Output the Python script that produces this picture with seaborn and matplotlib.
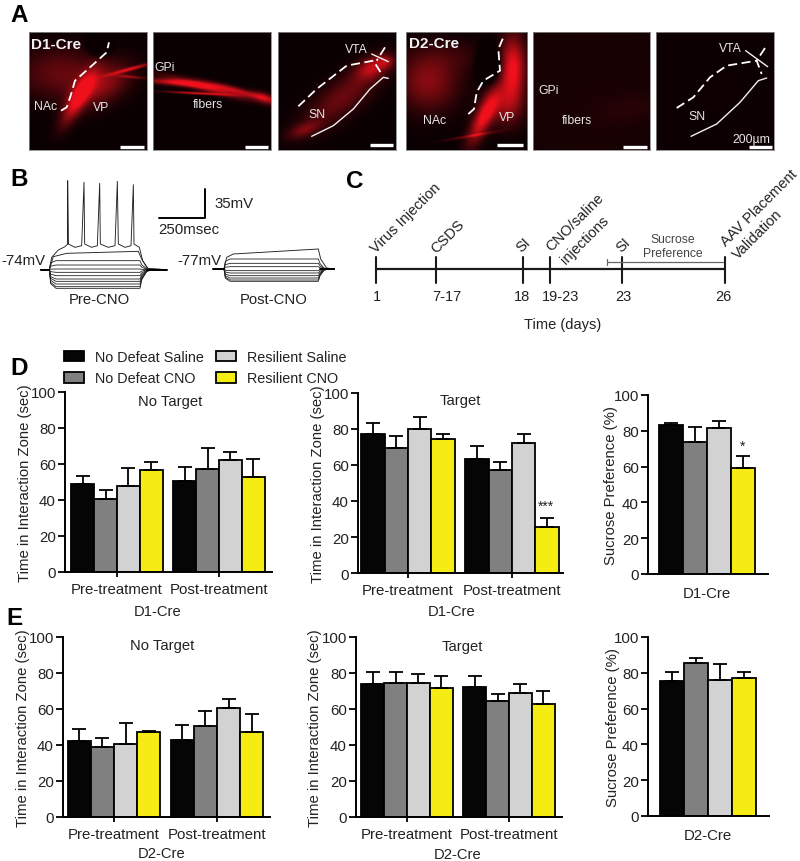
import matplotlib
matplotlib.use("Agg")
import matplotlib.pyplot as plt
from matplotlib.colors import LinearSegmentedColormap
import numpy as np
import pandas as pd
import seaborn as sns

W, H = 800, 862

# bar data
groups = ['No Defeat Saline', 'No Defeat CNO', 'Resilient Saline', 'Resilient CNO']
palette = ['#050505', '#808080', '#d2d2d2', '#f5ec14']
phases = ['Pre-treatment', 'Post-treatment']

d_notarget = [49, 40.5, 48, 56.5, 50.5, 57, 62, 53]
d_notarget_top = [53.5, 45.5, 58, 61, 58.5, 69, 66.5, 63]
d_target = [77, 69.5, 80, 74.5, 63.5, 57.5, 72, 25.5]
d_target_top = [83.5, 76, 86.5, 77, 70.5, 61.5, 77, 30.5]
d_sucrose = [83, 74, 81.5, 59]
d_sucrose_top = [84.5, 82, 85.5, 66]

e_notarget = [42.5, 39, 40.5, 47, 43, 50.5, 60.5, 47.5]
e_notarget_top = [49, 44, 52, 48, 51, 59, 65.5, 57]
e_target = [74, 74.5, 74.5, 71.5, 72, 64.5, 69, 63]
e_target_top = [80.5, 80.5, 79.5, 78.5, 78.5, 68.5, 74, 70]
e_sucrose = [75.5, 85.5, 76, 77]
e_sucrose_top = [80.5, 88.5, 85, 80.5]

# timeline
tl_x = [376, 436, 523, 550, 622, 725]
tl_day_x = [377, 447, 522, 561, 623, 723]
tl_days = ['1', '7-17', '18', '19-23', '23', '26']

# traces, in zoom pixels (x3)
pre_levels = [373, 368, 360, 352, 345, 335, 325, 315, 303, 290]
post_levels = [352, 348, 342, 335, 327, 320, 308, 298, 285]
pre_spiking = [(122, 317), (148, 317), (155, 280), (175, 258), (195, 248), (203, 240), (203, 50), (205, 240),
               (225, 250), (245, 245), (252, 55), (254, 240), (275, 250), (292, 245), (299, 58), (301, 240),
               (325, 250), (345, 245), (352, 52), (355, 240), (375, 250), (393, 245), (400, 62), (402, 240),
               (418, 250), (428, 290), (445, 315), (500, 317)]
pre_upper = [(122, 317), (148, 317), (160, 278), (200, 268), (415, 262), (425, 285), (442, 313), (500, 317)]
post_upper = [(640, 315), (672, 315), (680, 280), (700, 270), (955, 255), (962, 285), (980, 312), (1003, 315)]

# panel A: rectangles in px, glow spots (x, y, sx, sy, angle, amp) in panel fractions
a_rects = [(29, 33, 118, 118), (153, 33, 118, 118), (278, 33, 118, 118),
           (406, 33, 121, 118), (533, 33, 117, 118), (656, 33, 118, 118)]
a_spots = [
    [(.28, .35, .26, .15, 0, .4), (.42, .56, .05, .17, 30, .95), (.62, .45, .18, .1, -30, .5),
     (.87, .31, .13, .01, -15, .85), (.87, .38, .09, .008, 5, .5), (.6, .1, .05, .05, 0, -1.2)],
    [(.2, .43, .2, .018, 5, .85), (.45, .47, .24, .025, 15, .8), (.38, .52, .18, .007, 3, .95),
     (.72, .5, .2, .02, 15, .7), (.95, .56, .07, .03, 20, .6)],
    [(.55, .55, .28, .1, -38, .42), (.8, .3, .1, .06, -25, .65), (.22, .83, .1, .04, -20, .4),
     (.92, .25, .05, .04, 0, .4)],
    [(.18, .42, .17, .17, 0, .55), (.45, .2, .25, .1, 0, .15), (.64, .72, .05, .17, 25, 1.0),
     (.88, .32, .07, .2, 0, 1.0), (.8, .62, .1, .12, 0, .5), (.55, .88, .15, .008, -10, .45),
     (.68, .27, .06, .09, 0, -.8)],
    [(.5, .5, .9, .9, 0, .07), (.82, .65, .22, .08, -10, .07)],
    [(.5, .5, .9, .9, 0, .02)],
]

# panel A outlines and labels, zoom pixels (x3), second tuple item is the crop x origin
dashes = [
    ([(183, 335), (200, 325), (212, 290), (225, 245), (270, 205), (320, 160), (327, 130)], 0),
    ([(895, 322), (950, 270), (1040, 200), (1120, 185), (1145, 225)], 0),
    ([(1155, 145), (1130, 185)], 0),
    ([(205, 345), (222, 330), (230, 280), (250, 245), (300, 215), (295, 150), (310, 115)], 400),
    ([(830, 327), (880, 295), (930, 235), (980, 200), (1070, 185), (1085, 225)], 400),
    ([(1095, 147), (1070, 185)], 400),
]
solids = [
    ([(935, 412), (1000, 380), (1060, 330), (1110, 270), (1150, 235), (1165, 238)], 0),
    ([(1115, 165), (1165, 188)], 0),
    ([(873, 412), (950, 375), (1020, 310), (1075, 245), (1100, 237)], 400),
    ([(1037, 155), (1103, 203)], 400),
]
bars_a = [(360, 432, 443, 0), (735, 805, 443, 0), (1110, 1180, 438, 0),
          (292, 370, 437, 400), (670, 740, 443, 400), (1047, 1117, 445, 400)]
a_labels = [('NAc', 137, 322, 0), ('VP', 303, 325, 0), ('GPi', 495, 205, 0), ('fibers', 624, 315, 0),
            ('VTA', 1068, 150, 0), ('SN', 950, 345, 0), ('NAc', 105, 362, 400), ('VP', 322, 355, 400),
            ('GPi', 447, 273, 400), ('fibers', 530, 362, 400), ('VTA', 990, 147, 400), ('SN', 892, 352, 400),
            ('200µm', 1055, 420, 400)]

sns.set_theme(style='ticks')
plt.rcParams['font.family'] = ['Liberation Sans', 'DejaVu Sans']
ink = '#222222'

fig = plt.figure(figsize=(W / 100, H / 100), dpi=100)


def px_axes(left, top, right, bottom):
    return fig.add_axes([left / W, 1 - bottom / H, (right - left) / W, (bottom - top) / H])


def crop(pts, ox=0, oy=0):
    return [ox + p[0] / 3 for p in pts], [oy + p[1] / 3 for p in pts]


def glow(spots, n=150):
    yy, xx = np.mgrid[0:1:n * 1j, 0:1:n * 1j]
    out = np.zeros_like(xx)
    for cx, cy, sx, sy, ang, amp in spots:
        t = np.deg2rad(ang)
        u = (xx - cx) * np.cos(t) + (yy - cy) * np.sin(t)
        v = -(xx - cx) * np.sin(t) + (yy - cy) * np.cos(t)
        out += amp * np.exp(-.5 * (u / sx) ** 2 - .5 * (v / sy) ** 2)
    return np.clip(out, 0, 1)


def bar_panel(vals, tops, cats, left, top, right, bottom, ticks, ylabel, label_x):
    n = len(cats)
    df = pd.DataFrame({
        'cat': [c for c in cats for _ in groups],
        'group': groups * n,
        'val': vals,
    })
    ax = px_axes(left, top, right, bottom)
    sns.barplot(data=df, x='cat', y='val', hue='group', hue_order=groups, palette=palette, saturation=1,
                order=cats, width=.9, gap=0, edgecolor='black', linewidth=1.3, errorbar=None, ax=ax)
    handles, labels = ax.get_legend_handles_labels()
    ax.get_legend().remove()
    # upper error bars only, taken from the bars seaborn placed
    xs = [p.get_x() + p.get_width() / 2 for c in ax.containers for p in c]
    hs = [p.get_height() for c in ax.containers for p in c]
    order = np.argsort(xs)
    xs = np.array(xs)[order]
    hs = np.array(hs)[order]
    up = np.array(tops) - hs
    ax.errorbar(xs, hs, yerr=[np.zeros_like(up), up], fmt='none', ecolor='black', elinewidth=1.3, capsize=4.8,
                capthick=1.3, zorder=1)
    ax.set_ylim(0, 100)
    ax.set_yticks([0, 20, 40, 60, 80, 100])
    if n == 1:
        ax.set_xlim((left - ticks[0]) / 107, (right - ticks[0]) / 107)
        ax.tick_params(axis='x', length=0, pad=9)
    else:
        sp = ticks[1] - ticks[0]
        ax.set_xlim((left - ticks[0]) / sp, (right - ticks[0]) / sp)
        ax.tick_params(axis='x', length=3.5, width=1.3, pad=4, color='black')
    ax.tick_params(axis='y', length=5, width=1.3, pad=1.5, color='black')
    ax.tick_params(labelsize=10.8, labelcolor=ink)
    ax.set_xlabel('')
    ax.set_ylabel(ylabel, fontsize=10.7, color=ink)
    ax.yaxis.set_label_coords((label_x + 10 - left) / (right - left), .5)
    sns.despine(ax=ax)
    for s in ['left', 'bottom']:
        ax.spines[s].set_linewidth(1.4)
        ax.spines[s].set_color('black')
    ax.patch.set_alpha(0)
    return handles, labels


time_label = 'Time in Interaction Zone (sec)'
suc_label = 'Sucrose Preference (%)'
handles, labels = bar_panel(d_notarget, d_notarget_top, phases, 65, 393, 272, 573, (117, 219), time_label, 22)
bar_panel(d_target, d_target_top, phases, 358, 394, 563, 574, (408, 512), time_label, 315)
bar_panel(d_sucrose, d_sucrose_top, ['D1-Cre'], 648, 396, 768, 575, (707,), suc_label, 608)
bar_panel(e_notarget, e_notarget_top, phases, 63, 638, 270, 818, (114, 217), time_label, 20)
bar_panel(e_target, e_target_top, phases, 356, 638, 562, 818, (407, 509), time_label, 312)
bar_panel(e_sucrose, e_sucrose_top, ['D2-Cre'], 648, 638, 769, 817, (708,), suc_label, 610)

fig.legend(handles, labels, ncol=2, loc='upper left', bbox_to_anchor=(57 / W, 1 - 344 / H), frameon=False,
           fontsize=10.4, handlelength=1.4, handleheight=.75, columnspacing=.85, handletextpad=.72,
           labelspacing=.5, borderpad=0, labelcolor=ink)

# panel A images
red = LinearSegmentedColormap.from_list('glow', ['#0a0002', '#7a0a10', '#f0101c'])
for rect, spots in zip(a_rects, a_spots):
    x, y, w, h = rect
    ia = px_axes(x, y, x + w, y + h)
    ia.imshow(glow(spots), cmap=red, vmin=0, vmax=1, aspect='auto')
    ia.set_xticks([])
    ia.set_yticks([])
    for s in ia.spines.values():
        s.set_color('#888888')
        s.set_linewidth(.6)
    ia.grid(False)

# overlay in figure pixels
ov = fig.add_axes([0, 0, 1, 1], zorder=5)
ov.set_xlim(0, W)
ov.set_ylim(H, 0)
ov.axis('off')

for pts, ox in dashes:
    xs, ys = crop(pts, ox)
    ov.plot(xs, ys, color='white', lw=1.3, ls=(0, (5, 2.5)))
for pts, ox in solids:
    xs, ys = crop(pts, ox)
    ov.plot(xs, ys, color='#f0f0f0', lw=1.0)
for x0, x1, y, ox in bars_a:
    ov.plot([ox + x0 / 3, ox + x1 / 3], [y / 3, y / 3], color='white', lw=2.4, solid_capstyle='butt')
for txt, x, y, ox in a_labels:
    ov.text(ox + x / 3, y / 3, txt, color='#e6e6e6', fontsize=8.8, ha='center', va='center')
ov.text(31, 45, 'D1-Cre', color='#f2f2f2', fontsize=11, fontweight='bold', va='center')
ov.text(409, 44, 'D2-Cre', color='#f2f2f2', fontsize=11, fontweight='bold', va='center')

# panel letters
for letter, x, y in [('A', 19, 15), ('B', 19, 179), ('C', 355, 182), ('D', 19, 369), ('E', 15, 619)]:
    ov.text(x, y, letter, fontsize=17.5, fontweight='bold', color='black', ha='center', va='center')

# panel B traces
for lev in pre_levels:
    pts = [(122, 317), (148, 317), (152, 317 + (lev - 317) * .75), (168, lev), (420, lev),
           (425, 317 + (lev - 317) * .55), (440, 317 + (lev - 317) * .1), (455, 317), (500, 317)]
    xs, ys = crop(pts, 0, 165)
    ov.plot(xs, ys, color=ink, lw=.6)
for lev in post_levels:
    pts = [(640, 315), (672, 315), (676, 315 + (lev - 315) * .75), (690, lev), (955, lev),
           (960, 315 + (lev - 315) * .55), (972, 315 + (lev - 315) * .1), (985, 315), (1003, 315)]
    xs, ys = crop(pts, 0, 165)
    ov.plot(xs, ys, color=ink, lw=.6)
for pts in [pre_spiking, pre_upper, post_upper]:
    xs, ys = crop(pts, 0, 165)
    ov.plot(xs, ys, color=ink, lw=.65)
for seg in [[(440, 317), (500, 317)], [(122, 317), (148, 317)], [(960, 315), (1003, 315)], [(640, 315), (672, 315)]]:
    xs, ys = crop(seg, 0, 165)
    ov.plot(xs, ys, color='black', lw=1.4)
xs, ys = crop([(478, 161), (616, 161), (616, 74)], 0, 165)
ov.plot(xs, ys, color='black', lw=1.4)
ov.text(214, 204, '35mV', fontsize=10.8, color=ink, va='center')
ov.text(158, 230, '250msec', fontsize=10.8, color=ink, va='center')
ov.text(1, 261, '-74mV', fontsize=10.8, color=ink, va='center')
ov.text(177, 261, '-77mV', fontsize=10.8, color=ink, va='center')
ov.text(99, 300, 'Pre-CNO', fontsize=10.7, color=ink, ha='center', va='center')
ov.text(274, 300, 'Post-CNO', fontsize=10.7, color=ink, ha='center', va='center')

# panel C timeline
ov.plot([tl_x[0], tl_x[-1]], [270, 270], color='#1a1a1a', lw=1.6)
for x, lx, day in zip(tl_x, tl_day_x, tl_days):
    ov.plot([x, x], [258, 284], color='#1a1a1a', lw=1.5)
    ov.text(lx, 297, day, fontsize=10.5, color=ink, ha='center', va='center')
ov.text(563, 325, 'Time (days)', fontsize=10.5, color=ink, ha='center', va='center')
ov.plot([607, 723], [263, 263], color='#666666', lw=.9)
ov.plot([607, 607], [260, 266], color='#666666', lw=.9)
ov.text(673, 247, 'Sucrose\nPreference', fontsize=8.7, color='#444444', ha='center', va='center', linespacing=1.15)
rot_labels = [('Virus Injection', 373, 251), ('CSDS', 433, 251), ('SI', 519, 250), ('CNO/saline', 548, 249),
              ('injections', 563, 262), ('SI', 619, 250), ('AAV Placement', 723, 244), ('Validation', 735, 257)]
for txt, x, y in rot_labels:
    ov.text(x, y, txt, fontsize=10.5, color=ink, rotation=45, rotation_mode='anchor', ha='left', va='center')

# titles and lower labels
for txt, x, y in [('No Target', 170, 402), ('Target', 460, 401), ('No Target', 162, 646), ('Target', 462, 647),
                  ('D1-Cre', 158, 612), ('D1-Cre', 452, 612), ('D2-Cre', 162, 854), ('D2-Cre', 458, 855)]:
    ov.text(x, y, txt, fontsize=10.6, color=ink, ha='center', va='center')
ov.text(546, 507, '***', fontsize=10, color=ink, ha='center', va='center')
ov.text(743, 447, '*', fontsize=10, color=ink, ha='center', va='center')

fig.savefig('out.png', dpi=100)
